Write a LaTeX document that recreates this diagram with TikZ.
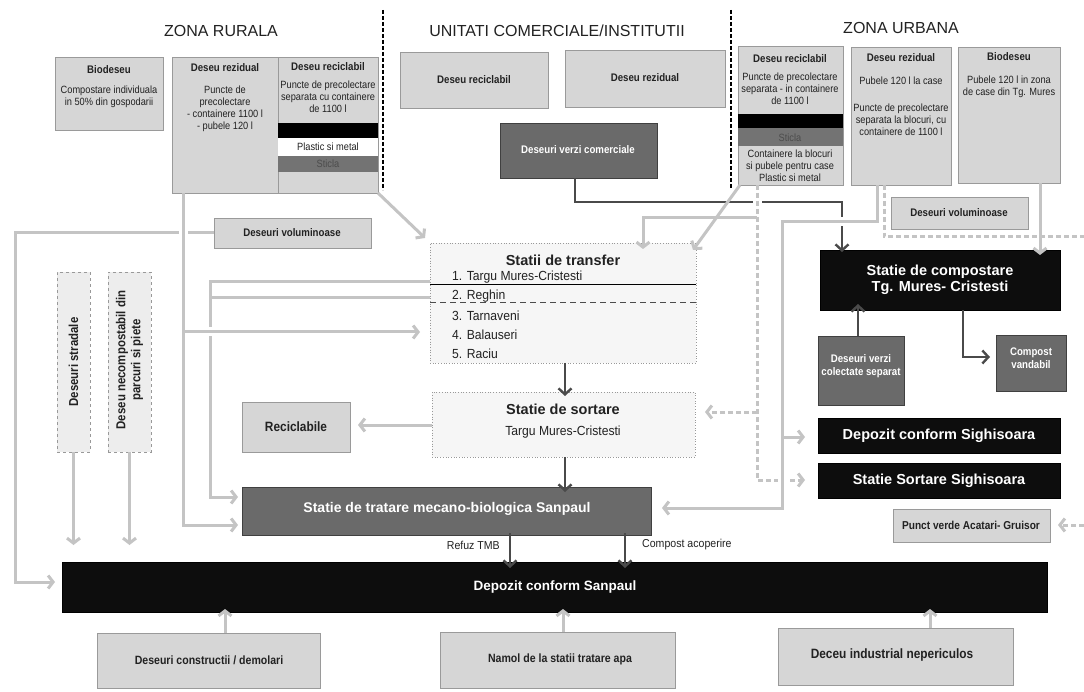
\documentclass[tikz,border=0pt]{standalone}
\usepackage{fontspec}
\setmainfont{Liberation Sans}
\newfontfamily\narrowfont[FakeStretch=0.88]{Liberation Sans}
\newfontfamily\listfont[FakeStretch=0.92]{Liberation Sans}
\usetikzlibrary{arrows.meta}
\definecolor{lg}{HTML}{D6D6D6}
\definecolor{lgb}{HTML}{9A9A9A}
\definecolor{conn}{HTML}{C4C4C4}
\definecolor{dg}{HTML}{6A6A6A}
\definecolor{dk}{HTML}{4A4A4A}
\definecolor{txt}{HTML}{222222}
\tikzset{
  base/.style={inner sep=0pt, outer sep=0pt, anchor=north west},
  lbox/.style={base, draw=lgb, fill=lg, line width=0.6pt},
  dbox/.style={base, draw=black!75, fill=dg, line width=0.6pt},
  bbox/.style={base, draw=black, fill=black!95, line width=0.6pt},
  tbox/.style={base, draw=gray!80, dotted, fill=gray!7, line width=0.7pt},
  vbox/.style={base, draw=gray!80, dashed, fill=gray!14, line width=0.7pt},
  ttl/.style={font=\narrowfont\bfseries\fontsize{11}{12.5}\selectfont, text=txt, inner sep=0pt},
  sm/.style={font=\narrowfont\fontsize{10.5}{12}\selectfont, text=txt, align=center, inner sep=0pt},
  wt/.style={font=\bfseries\fontsize{14.5}{16.5}\selectfont, text=white, align=center, inner sep=0pt},
  zone/.style={font=\fontsize{16}{18}\selectfont, text=txt, inner sep=0pt},
  lst/.style={font=\listfont\fontsize{13.2}{15}\selectfont, text=txt, anchor=west, inner sep=0pt},
  gline/.style={draw=conn, line width=3pt},
  garr/.style={gline, -{Straight Barb[length=5pt,width=13pt]}},
  gdash/.style={gline, dash pattern=on 5pt off 3pt},
  gdarr/.style={gdash, -{Straight Barb[length=5pt,width=13pt]}},
  dline/.style={draw=dk, line width=2.4pt},
  darr/.style={dline, -{Straight Barb[length=6pt,width=13pt]}},
  gap/.style={draw=white, line width=9pt},
  sep/.style={draw=black, line width=1.2pt, dash pattern=on 4pt off 2pt}
}
\begin{document}
\begin{tikzpicture}[x=1pt,y=-1pt]
\fill[white] (0,0) rectangle (1084,692);
\useasboundingbox (0,0) rectangle (1084,692);

% zone titles and separators
\node[zone] (zr) at (221,31) {ZONA RURALA};
\node[zone] (zc) at (557,31) {UNITATI COMERCIALE/INSTITUTII};
\node[zone] (zu) at (901,28) {ZONA URBANA};
\coordinate (s1a) at (383,10); \coordinate (s1b) at (383,190);
\coordinate (s2a) at (731,10); \coordinate (s2b) at (731,188);
\draw[sep] (s1a) -- (s1b);
\draw[sep] (s2a) -- (s2b);

% ---------- boxes ----------
\node[lbox, minimum width=106pt, minimum height=136pt] (rrez) at (172,57) {};
\node[lbox, minimum width=100pt, minimum height=136pt] (rrec) at (278,57) {};
\node[lbox, minimum width=157pt, minimum height=30pt] (rvol) at (214,218) {};
\node[tbox, minimum width=266pt, minimum height=120pt] (transf) at (430,243) {};
\node[tbox, minimum width=263pt, minimum height=65pt] (sort) at (432,392) {};
\node[lbox, minimum width=108pt, minimum height=50pt] (recic) at (242,402) {};
\node[dbox, minimum width=409pt, minimum height=48pt] (tmb) at (242,487) {};
\node[bbox, minimum width=985pt, minimum height=50pt] (dep) at (62,562) {};
\node[vbox, minimum width=33pt, minimum height=180pt] (strad) at (57,272) {};
\node[vbox, minimum width=43pt, minimum height=180pt] (parc) at (108,272) {};
\node[lbox, minimum width=223pt, minimum height=55pt] (constr) at (97,633) {};
\node[lbox, minimum width=235pt, minimum height=56pt] (namol) at (440,632) {};
\node[lbox, minimum width=235pt, minimum height=57pt] (indus) at (778,628) {};
\node[lbox, minimum width=105pt, minimum height=139pt] (urec) at (738,46) {};
\node[lbox, minimum width=100pt, minimum height=138pt] (urez) at (851,47) {};
\node[lbox, minimum width=102pt, minimum height=136pt] (ubio) at (958,47) {};
\node[bbox, minimum width=240pt, minimum height=60pt] (comp) at (820,250) {};
\node[bbox, minimum width=242pt, minimum height=35pt] (depsig) at (818,418) {};
\node[bbox, minimum width=242pt, minimum height=35pt] (sortsig) at (818,463) {};
\node[lbox, minimum width=157pt, minimum height=33pt] (punct) at (893,509) {};
\node[dbox, minimum width=157pt, minimum height=55pt] (cverzi) at (500,123) {};
\node[dbox, minimum width=86pt, minimum height=69pt] (verzisep) at (818,336) {};
\node[dbox, minimum width=70pt, minimum height=56pt] (vand) at (996,335) {};

\coordinate (redge) at (1084,237);
\coordinate (redge2) at (1084,525);

% ---------- connectors ----------
% voluminoase rural, then rezidual rural crossing it
\draw[garr] (rvol.west) -- (15,233) -- (15,582) -- ([xshift=-7pt]dep.west |- 0,582);
\draw[gap] (183,226) -- (183,240);
\draw[garr] (rrez.south west -| 183,0) -- (183,525) -- ([xshift=-4pt]tmb.west |- 0,525);
% transfer 1,2 -> TMB, crossed by branch into transfer
\draw[garr] (transf.west |- 0,282) -- (210,282) -- (210,497) -- ([xshift=-4pt]tmb.west |- 0,497);
\draw[gline] (transf.west |- 0,298) -- (210,298);
\draw[gap] (202,332) -- (218,332);
\draw[garr] (183,332) -- ([xshift=-10pt]transf.west |- 0,332);
\draw[garr] (rrec.south east) -- ([xshift=-5pt,yshift=5pt]transf.north west);
\draw[garr] (strad.south) -- ++(0,93);
\draw[garr] (parc.south) -- ++(0,93);
\draw[garr] (constr.north -| 225,0) -- ([yshift=3pt]dep.south -| 225,0);
\draw[garr] (namol.north -| 563,0) -- ([yshift=3pt]dep.south -| 563,0);
\draw[garr] (indus.north -| 930,0) -- ([yshift=3pt]dep.south -| 930,0);
\draw[garr] (sort.west |- 0,425) -- ([xshift=8pt]recic.east |- 0,425);
% dark line from commercial green waste (crossed by lighter flows)
\draw[darr] (cverzi.south -| 575,0) -- (575,202) -- (842,202) -- ([yshift=-2pt]comp.north -| 842,0);
\draw[gap] (757,194) -- (757,210);
\draw[gap] (832,222) -- (852,222);
% urban reciclabil
\draw[gdarr] (urec.south -| 757,0) -- (757,480) -- ([xshift=-13pt]sortsig.west |- 0,480);
\draw[gdarr] (757,412) -- ([xshift=10pt]sort.east |- 0,412);
\draw[gap] (782,472) -- (782,488);
% urban rezidual
\draw[garr] (urez.south -| 877,0) -- (877,222) -- (782,222) -- (782,508) -- ([xshift=11pt]tmb.east |- 0,508);
\draw[garr] (782,437) -- ([xshift=-13pt]depsig.west |- 0,437);
\draw[garr] ([xshift=2pt]urec.south west) -- ([xshift=-3pt,yshift=-7pt]transf.north east);
\draw[garr] (757,218) -- (643,218) -- ([yshift=-6pt]transf.north -| 643,0);
\draw[gdash] (urez.south -| 884,0) -- (884,237) -- (redge);
\draw[garr] (ubio.south -| 1040,0) -- ([yshift=-5pt]comp.north -| 1040,0);
\draw[gdarr] (redge2) -- ([xshift=8pt]punct.east |- redge2);

% ---------- dark connectors ----------
\draw[darr] (transf.south -| 565,0) -- ([yshift=-4pt]sort.north -| 565,0);
\draw[darr] (sort.south -| 565,0) -- ([yshift=-5pt]tmb.north -| 565,0);
\draw[darr] ([yshift=2pt]tmb.south -| 510,0) -- ([yshift=-6pt]dep.north -| 510,0);
\draw[darr] ([yshift=2pt]tmb.south -| 625,0) -- ([yshift=-6pt]dep.north -| 625,0);
\draw[darr] (verzisep.north -| 858,0) -- ([yshift=6pt]comp.south -| 858,0);
\draw[darr] (comp.south -| 963,0) -- (963,357) -- ([xshift=-6pt]vand.west |- 0,357);

% ---------- rural boxes ----------
\node[lbox, minimum width=108pt, minimum height=73pt] (rbio) at (55,57) {};
\node[ttl] (rbiot) at (109,70) {Biodeseu};
\node[sm] (rbiox) at (109,97) {Compostare individuala\\in 50\% din gospodarii};
\node[ttl] (rrezt) at (225,68) {Deseu rezidual};
\node[sm] (rrezx) at (225,109) {Puncte de\\precolectare\\- containere 1100 l\\- pubele 120 l};
\node[ttl] (rrect) at (328,67) {Deseu reciclabil};
\node[sm] (rrecx) at (328,97) {Puncte de precolectare\\separata cu containere\\de 1100 l};
\node[base, fill=black, minimum width=100pt, minimum height=15pt] (rrecb1) at (278,123) {};
\node[base, fill=white, minimum width=100pt, minimum height=18pt] (rrecb2) at (278,138) {};
\node[base, fill=black!55, minimum width=100pt, minimum height=16pt] (rrecb3) at (278,156) {};
\node[sm] (rrecps) at (328,147) {Plastic si metal};
\node[sm, text=black!70] (rrecst) at (328,164) {Sticla};

% ---------- commercial ----------
\node[lbox, minimum width=148pt, minimum height=56pt] (crec) at (400,52) {};
\node[ttl] (crect) at (474,80) {Deseu reciclabil};
\node[lbox, minimum width=160pt, minimum height=57pt] (crez) at (565,50) {};
\node[ttl] (crezt) at (645,78) {Deseu rezidual};
\node[ttl, text=white] (cverzit) at (578,150) {Deseuri verzi comerciale};

% ---------- urban ----------
\node[ttl] (urect) at (790,59) {Deseu reciclabil};
\node[sm] (urecx) at (790,89) {Puncte de precolectare\\separata - in containere\\de 1100 l};
\node[base, fill=black, minimum width=105pt, minimum height=14pt] (urecb1) at (738,114) {};
\node[base, fill=black!55, minimum width=105pt, minimum height=18pt] (urecb2) at (738,128) {};
\node[sm, text=black!70] (urecst) at (790,138) {Sticla};
\node[sm] (urecy) at (790,166) {Containere la blocuri\\si pubele pentru case\\Plastic si metal};
\node[ttl] (urezt) at (901,58) {Deseu rezidual};
\node[sm] (urezx) at (901,81) {Pubele 120 l la case};
\node[sm] (urezy) at (901,120) {Puncte de precolectare\\separata la blocuri, cu\\containere de 1100 l};
\node[ttl] (ubiot) at (1009,57) {Biodeseu};
\node[sm] (ubiox) at (1009,87) {Pubele 120 l in zona\\de case din Tg. Mures};
\node[lbox, minimum width=137pt, minimum height=32pt] (uvol) at (891,197) {};
\node[ttl] (uvolt) at (959,213) {Deseuri voluminoase};

% ---------- left ----------
\node[ttl] (rvolt) at (292,233) {Deseuri voluminoase};
\node[ttl, rotate=90, font=\narrowfont\bfseries\fontsize{13}{14}\selectfont] (stradt) at (73.5,362) {Deseuri stradale};
\node[ttl, rotate=90, align=center, font=\narrowfont\bfseries\fontsize{13}{15}\selectfont] (parct) at (129.5,360) {Deseu necompostabil din\\parcuri si piete};

% ---------- centre ----------
\node[ttl, font=\bfseries\fontsize{14.5}{16}\selectfont] (transft) at (563,260) {Statii de transfer};
\draw[black, line width=1pt] (transf.west |- 0,285) -- (transf.east |- 0,285);
\draw[black!70, line width=0.8pt, dash pattern=on 6pt off 4pt] (transf.west |- 0,302) -- (transf.east |- 0,302);
\node[lst] (t1) at (452,277) {1. Targu Mures-Cristesti};
\node[lst] (t2) at (452,296) {2. Reghin};
\node[lst] (t3) at (452,316) {3. Tarnaveni};
\node[lst] (t4) at (452,335) {4. Balauseri};
\node[lst] (t5) at (452,354) {5. Raciu};
\node[ttl, font=\bfseries\fontsize{14.5}{16}\selectfont] (sortt) at (563,409) {Statie de sortare};
\node[lst, anchor=center] (sortx) at (563,432) {Targu Mures-Cristesti};
\node[ttl, font=\narrowfont\bfseries\fontsize{13.5}{15}\selectfont] (recict) at (296,427) {Reciclabile};
\node[wt, font=\bfseries\fontsize{14}{16}\selectfont] (tmbt) at (447,509) {Statie de tratare mecano-biologica Sanpaul};
\node[lst, anchor=east, font=\listfont\fontsize{11.5}{13}\selectfont] (refuz) at (500,545) {Refuz TMB};
\node[lst, font=\listfont\fontsize{11.5}{13}\selectfont] (compac) at (642,545) {Compost acoperire};
\node[wt, font=\bfseries\fontsize{13.5}{15}\selectfont] (dept) at (555,587) {Depozit conform Sanpaul};
\node[ttl, font=\narrowfont\bfseries\fontsize{12}{13}\selectfont] (constrt) at (209,660) {Deseuri constructii / demolari};
\node[ttl, font=\narrowfont\bfseries\fontsize{12}{13}\selectfont] (namolt) at (560,659) {Namol de la statii tratare apa};
\node[ttl, font=\narrowfont\bfseries\fontsize{13.5}{15}\selectfont] (indust) at (892,655) {Deceu industrial nepericulos};

% ---------- right ----------
\node[wt] (compt) at (940,280) {Statie de compostare\\Tg. Mures- Cristesti};
\node[ttl, text=white, align=center, font=\narrowfont\bfseries\fontsize{11}{12.5}\selectfont] (verzisept) at (861,366) {Deseuri verzi\\colectate separat};
\node[ttl, text=white, align=center, font=\narrowfont\bfseries\fontsize{11}{12.5}\selectfont] (vandt) at (1031,358) {Compost\\vandabil};
\node[wt] (depsigt) at (939,436) {Depozit conform Sighisoara};
\node[wt] (sortsigt) at (939,481) {Statie Sortare Sighisoara};
\node[ttl, font=\narrowfont\bfseries\fontsize{11.5}{13}\selectfont] (punctt) at (971,525) {Punct verde Acatari- Gruisor};
\end{tikzpicture}
\end{document}
